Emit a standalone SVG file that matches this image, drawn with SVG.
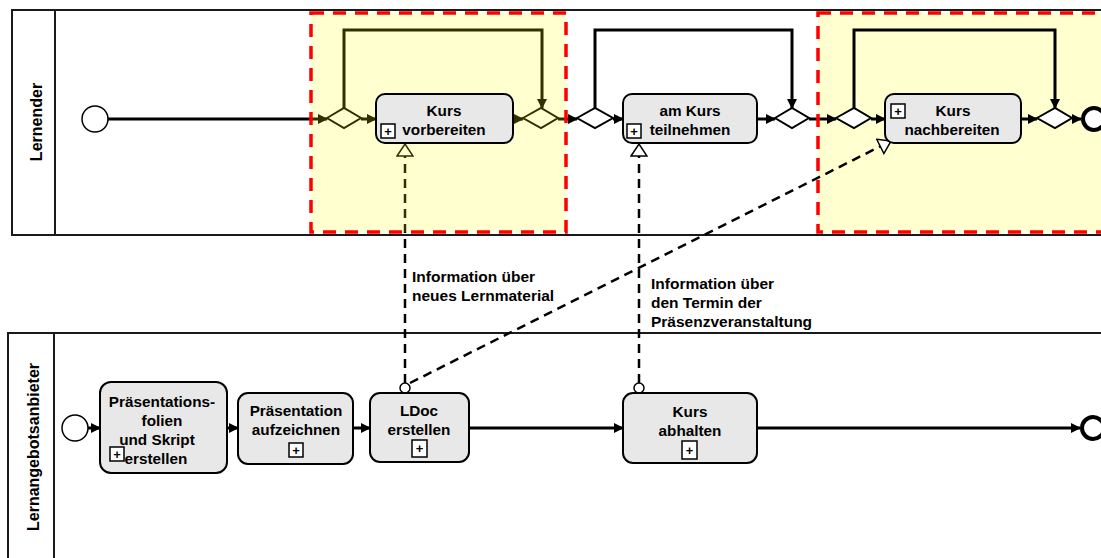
<svg xmlns="http://www.w3.org/2000/svg" width="1101" height="558" viewBox="0 0 1101 558">
<style>
.pool{fill:#fff;stroke:#1a1a1a;stroke-width:2}
.task{fill:#e8e8e8;stroke:#000;stroke-width:2}
.t{font-family:"Liberation Sans",Arial,sans-serif;font-weight:bold;font-size:15.3px;fill:#000;text-anchor:middle}
.lbl{font-family:"Liberation Sans",Arial,sans-serif;font-weight:bold;font-size:15.5px;fill:#000}
.lane{font-family:"Liberation Sans",Arial,sans-serif;font-weight:bold;font-size:16px;fill:#000;text-anchor:middle}
.flow{fill:none;stroke:#000;stroke-width:3}
.gw{fill:#fff;stroke:#000;stroke-width:2}
.plus{fill:#fff;stroke:#000;stroke-width:1.5}
.pt{font-family:"Liberation Sans",Arial,sans-serif;font-weight:bold;font-size:13px;fill:#000;text-anchor:middle}
.da{fill:none;stroke:#000;stroke-width:2.5;stroke-dasharray:9 6}
.red{fill:none;stroke:#ff0000;stroke-width:3.5;stroke-dasharray:13 9}
</style>
<defs>
<marker id="arr" viewBox="0 0 10 10" refX="9" refY="5" markerWidth="10" markerHeight="10" markerUnits="userSpaceOnUse" orient="auto">
<path d="M0,0 L10,5 L0,10 z" fill="#000"/>
</marker>
<marker id="open" viewBox="0 0 14 18" refX="13" refY="9" markerWidth="14" markerHeight="18" markerUnits="userSpaceOnUse" orient="auto">
<path d="M1,1 L13,9 L1,17 z" fill="#fff" stroke="#000" stroke-width="1.5"/>
</marker>
</defs>
<rect width="1101" height="558" fill="#fff"/>
<g id="pool-lernender">
<rect class="pool" x="12" y="10" width="1100" height="225"/>
<line x1="55" y1="10" x2="55" y2="235" stroke="#1a1a1a" stroke-width="2"/>
<text class="lane" transform="translate(42,122) rotate(-90)">Lernender</text>
</g>
<g id="pool-anbieter">
<rect class="pool" x="8" y="333" width="1100" height="240"/>
<line x1="54" y1="333" x2="54" y2="558" stroke="#1a1a1a" stroke-width="2"/>
<text class="lane" transform="translate(39,447) rotate(-90)">Lernangebotsanbieter</text>
</g>
<rect x="818" y="13" width="300" height="219" fill="#ffffd0"/>
<g id="connectors">
<line class="flow" x1="108" y1="119" x2="327" y2="119" marker-end="url(#arr)"/>
<line class="flow" x1="361" y1="119" x2="376" y2="119" marker-end="url(#arr)"/>
<polyline class="flow" points="344,108 344,30 542,30 542,108" marker-end="url(#arr)"/>
<line class="flow" x1="513" y1="119" x2="523" y2="119" marker-end="url(#arr)"/>
<line class="flow" x1="558" y1="119" x2="577" y2="119" marker-end="url(#arr)"/>
<line class="flow" x1="613" y1="119" x2="623" y2="119" marker-end="url(#arr)"/>
<polyline class="flow" points="595,108 595,30 792,30 792,108" marker-end="url(#arr)"/>
<line class="flow" x1="757" y1="119" x2="775" y2="119" marker-end="url(#arr)"/>
<line class="flow" x1="809" y1="119" x2="836" y2="119" marker-end="url(#arr)"/>
<line class="flow" x1="871" y1="119" x2="885" y2="119" marker-end="url(#arr)"/>
<polyline class="flow" points="854,108 854,30 1055,30 1055,108" marker-end="url(#arr)"/>
<line class="flow" x1="1021" y1="119" x2="1037" y2="119" marker-end="url(#arr)"/>
<line class="flow" x1="1072" y1="119" x2="1081" y2="119" marker-end="url(#arr)"/>
<line class="flow" x1="88" y1="428" x2="100" y2="428" marker-end="url(#arr)"/>
<line class="flow" x1="227" y1="428" x2="238" y2="428" marker-end="url(#arr)"/>
<line class="flow" x1="353" y1="428" x2="370" y2="428" marker-end="url(#arr)"/>
<line class="flow" x1="469" y1="428" x2="623" y2="428" marker-end="url(#arr)"/>
<line class="flow" x1="757" y1="428" x2="1080" y2="428" marker-end="url(#arr)"/>
<line class="da" x1="405" y1="383" x2="405" y2="144" marker-end="url(#open)"/>
<line class="da" x1="410" y1="383" x2="891" y2="141" marker-end="url(#open)"/>
<line class="da" x1="639" y1="383" x2="639" y2="144" marker-end="url(#open)"/>
<circle cx="405" cy="388" r="5" fill="#fff" stroke="#000" stroke-width="1.5"/>
<circle cx="639" cy="388" r="5" fill="#fff" stroke="#000" stroke-width="1.5"/>
</g>
<g id="gw1"><path class="gw" d="M327,118 L344,108 L361,118 L344,128 z"/></g>
<g id="gw2"><path class="gw" d="M523,118 L541,108 L558,118 L541,128 z"/></g>
<g id="gw3"><path class="gw" d="M577,118 L595,108 L613,118 L595,128 z"/></g>
<g id="gw4"><path class="gw" d="M775,118 L792,108 L809,118 L792,128 z"/></g>
<g id="gw5"><path class="gw" d="M836,118 L854,108 L871,118 L854,128 z"/></g>
<g id="gw6"><path class="gw" d="M1037,118 L1055,108 L1072,118 L1055,128 z"/></g>
<rect x="311" y="13" width="255" height="219" fill="#ffff00" fill-opacity="0.19"/>
<g id="start-top"><circle cx="95" cy="119" r="13" fill="#fff" stroke="#000" stroke-width="1.5"/></g>
<g id="end-top"><circle cx="1094" cy="119" r="11" fill="#fff" stroke="#000" stroke-width="4"/></g>
<g id="start-bottom"><circle cx="75" cy="428" r="13" fill="#fff" stroke="#000" stroke-width="1.5"/></g>
<g id="end-bottom"><circle cx="1093" cy="428" r="11" fill="#fff" stroke="#000" stroke-width="4"/></g>
<g id="task-vorbereiten">
<rect class="task" x="376" y="94" width="137" height="49" rx="9"/>
<text class="t" x="444" y="116">Kurs</text>
<text class="t" x="444" y="135">vorbereiten</text>
<rect class="plus" x="381" y="124" width="14" height="14"/><text class="pt" x="388" y="136">+</text>
</g>
<g id="task-teilnehmen">
<rect class="task" x="623" y="94" width="134" height="49" rx="9"/>
<text class="t" x="690" y="116">am Kurs</text>
<text class="t" x="690" y="135">teilnehmen</text>
<rect class="plus" x="627" y="124" width="14" height="14"/><text class="pt" x="634" y="136">+</text>
</g>
<g id="task-nachbereiten">
<rect class="task" x="885" y="94" width="136" height="49" rx="9"/>
<text class="t" x="953" y="116">Kurs</text>
<text class="t" x="952" y="135">nachbereiten</text>
<rect class="plus" x="891" y="104" width="14" height="14"/><text class="pt" x="898" y="116">+</text>
</g>
<g id="task-folien">
<rect class="task" x="100" y="382" width="127" height="91" rx="11"/>
<text class="t" x="162" y="407">Präsentations-</text>
<text class="t" x="162" y="426">folien</text>
<text class="t" x="157" y="445">und Skript</text>
<text class="t" x="156" y="464">erstellen</text>
<rect class="plus" x="110" y="447" width="14" height="14"/><text class="pt" x="117" y="459">+</text>
</g>
<g id="task-aufzeichnen">
<rect class="task" x="238" y="393" width="115" height="71" rx="10"/>
<text class="t" x="296" y="416">Präsentation</text>
<text class="t" x="296" y="435">aufzeichnen</text>
<rect class="plus" x="289" y="443" width="14" height="14"/><text class="pt" x="296" y="455">+</text>
</g>
<g id="task-ldoc">
<rect class="task" x="370" y="393" width="99" height="69" rx="10"/>
<text class="t" x="419" y="416">LDoc</text>
<text class="t" x="419" y="435">erstellen</text>
<rect class="plus" x="412" y="440" width="15" height="17"/><text class="pt" x="419.5" y="453">+</text>
</g>
<g id="task-abhalten">
<rect class="task" x="623" y="393" width="134" height="70" rx="10"/>
<text class="t" x="690" y="417">Kurs</text>
<text class="t" x="690" y="436">abhalten</text>
<rect class="plus" x="682" y="441" width="15" height="18"/><text class="pt" x="689.5" y="455">+</text>
</g>
<text class="lbl" x="412" y="282">Information über</text>
<text class="lbl" x="412" y="301">neues Lernmaterial</text>
<text class="lbl" x="651" y="289">Information über</text>
<text class="lbl" x="651" y="308">den Termin der</text>
<text class="lbl" x="651" y="327">Präsenzveranstaltung</text>
<rect class="red" x="311" y="13" width="255" height="219"/>
<rect class="red" x="818" y="13" width="300" height="219"/>
</svg>
